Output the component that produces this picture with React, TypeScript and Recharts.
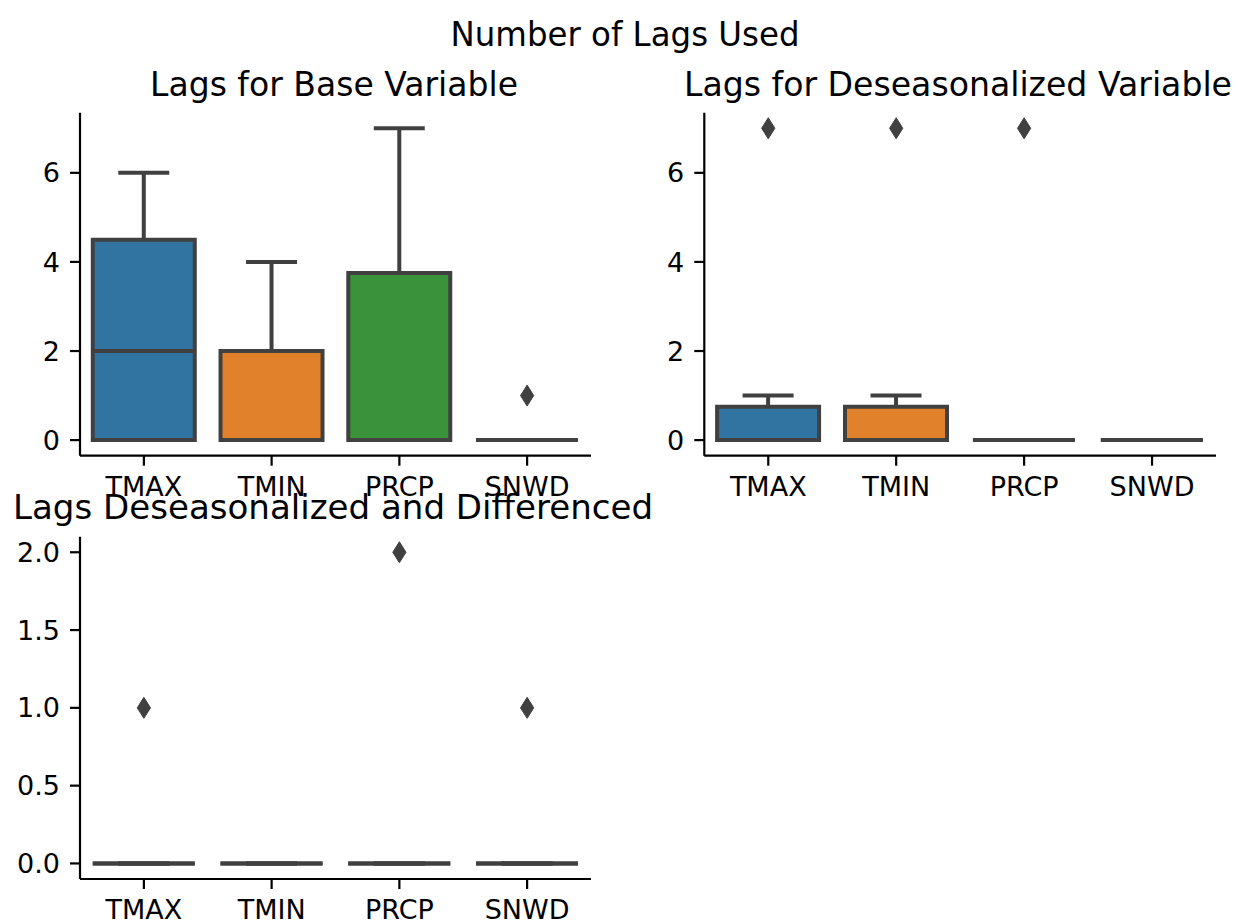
import { ComposedChart, Bar, Scatter, XAxis, YAxis } from "recharts";

const VARIABLES = ["TMAX", "TMIN", "PRCP", "SNWD"];
const PALETTE = ["#3274a1", "#e1812c", "#3a923a", "#c03d3e"];
const GRAY = "#404040";
const FONT = "DejaVu Sans";

// Lags for Base Variable
const BASE_LOW = [0, 0, 0, 0];
const BASE_Q1 = [0, 0, 0, 0];
const BASE_MEDIAN = [2, 0, 0, 0];
const BASE_Q3 = [4.5, 2, 3.75, 0];
const BASE_HIGH = [6, 4, 7, 0];
const BASE_OUTLIERS = [null, null, null, 1];

// Lags for Deseasonalized Variable
const DESEAS_LOW = [0, 0, 0, 0];
const DESEAS_Q1 = [0, 0, 0, 0];
const DESEAS_MEDIAN = [0, 0, 0, 0];
const DESEAS_Q3 = [0.75, 0.75, 0, 0];
const DESEAS_HIGH = [1, 1, 0, 0];
const DESEAS_OUTLIERS = [7, 7, 7, null];

// Lags Deseasonalized and Differenced
const DIFF_LOW = [0, 0, 0, 0];
const DIFF_Q1 = [0, 0, 0, 0];
const DIFF_MEDIAN = [0, 0, 0, 0];
const DIFF_Q3 = [0, 0, 0, 0];
const DIFF_HIGH = [0, 0, 0, 0];
const DIFF_OUTLIERS = [1, null, 2, 1];

const LAG_TICKS = [0, 2, 4, 6];
const DIFF_TICKS = [0, 0.5, 1, 1.5, 2];

function buildRows(
  low: number[],
  q1: number[],
  median: number[],
  q3: number[],
  high: number[],
  outliers: (number | null)[]
) {
  return VARIABLES.map((name, i) => ({
    name,
    range: [low[i], high[i]],
    low: low[i],
    q1: q1[i],
    median: median[i],
    q3: q3[i],
    high: high[i],
    outlier: outliers[i],
  }));
}

const baseRows = buildRows(BASE_LOW, BASE_Q1, BASE_MEDIAN, BASE_Q3, BASE_HIGH, BASE_OUTLIERS);
const deseasRows = buildRows(DESEAS_LOW, DESEAS_Q1, DESEAS_MEDIAN, DESEAS_Q3, DESEAS_HIGH, DESEAS_OUTLIERS);
const diffRows = buildRows(DIFF_LOW, DIFF_Q1, DIFF_MEDIAN, DIFF_Q3, DIFF_HIGH, DIFF_OUTLIERS);

// bar spans whisker low..high; everything else is placed inside that span
function BoxShape(props: any) {
  const { x, y, width, height, payload, index } = props;
  if (payload == null || x == null || y == null) return null;
  const top = Math.min(y, y + height);
  const bottom = Math.max(y, y + height);
  const span = payload.high - payload.low;
  const py = (v: number) =>
    span > 0 ? bottom - ((v - payload.low) / span) * (bottom - top) : top;
  const cx = x + width / 2;
  const capHalf = width / 4;
  const yLow = py(payload.low);
  const yQ1 = py(payload.q1);
  const yMed = py(payload.median);
  const yQ3 = py(payload.q3);
  const yHigh = py(payload.high);
  const line = { stroke: GRAY, strokeWidth: 4, fill: "none" };
  return (
    <g>
      <line x1={cx} x2={cx} y1={yQ3} y2={yHigh} {...line} />
      <line x1={cx} x2={cx} y1={yQ1} y2={yLow} {...line} />
      <line x1={cx - capHalf} x2={cx + capHalf} y1={yHigh} y2={yHigh} {...line} />
      <line x1={cx - capHalf} x2={cx + capHalf} y1={yLow} y2={yLow} {...line} />
      <path
        d={`M${x},${yQ3}H${x + width}V${yQ1}H${x}Z`}
        fill={PALETTE[index % PALETTE.length]}
        stroke={GRAY}
        strokeWidth={4}
      />
      <line x1={x} x2={x + width} y1={yMed} y2={yMed} {...line} />
    </g>
  );
}

function Diamond(props: any) {
  const { cx, cy, payload } = props;
  if (payload == null || payload.outlier == null || !isFinite(cx) || !isFinite(cy)) return null;
  const h = 10.5;
  const w = 6.6;
  return (
    <path
      d={`M${cx},${cy - h}L${cx + w},${cy}L${cx},${cy + h}L${cx - w},${cy}Z`}
      fill={GRAY}
      stroke={GRAY}
      strokeWidth={1}
    />
  );
}

interface PanelProps {
  rows: ReturnType<typeof buildRows>;
  left: number;
  top: number;
  width: number;
  height: number;
  margin: { top: number; right: number; bottom: number; left: number };
  domain: [number, number];
  ticks: number[];
  xAxisHeight: number;
  fmt?: (v: number) => string;
}

const axisStroke = { stroke: "#000", strokeWidth: 2.2 };
const tickStyle = { fill: "#000", fontSize: 27, fontFamily: FONT };

function BoxPanel({ rows, left, top, width, height, margin, domain, ticks, xAxisHeight, fmt }: PanelProps) {
  return (
    <div style={{ position: "absolute", left, top, width, height }}>
      <ComposedChart width={width} height={height} data={rows} margin={margin} barCategoryGap="10%">
        <XAxis
          dataKey="name"
          type="category"
          interval={0}
          height={xAxisHeight}
          tickSize={10}
          tickMargin={11}
          axisLine={axisStroke}
          tickLine={axisStroke}
          tick={tickStyle}
        />
        <YAxis
          type="number"
          domain={domain}
          ticks={ticks}
          allowDataOverflow
          width={60}
          tickSize={10}
          tickMargin={10}
          axisLine={axisStroke}
          tickLine={axisStroke}
          tick={tickStyle}
          tickFormatter={fmt}
        />
        <Bar dataKey="range" shape={BoxShape} isAnimationActive={false} />
        <Scatter dataKey="outlier" shape={Diamond} isAnimationActive={false} />
      </ComposedChart>
    </div>
  );
}

export default function App() {
  const titleStyle = { fontSize: 33, fontFamily: FONT, fill: "#000", lengthAdjust: "spacingAndGlyphs" as const };
  return (
    <div style={{ position: "absolute", left: 0, top: 0, width: 1238, height: 923, background: "#fff", overflow: "hidden" }}>
      <BoxPanel
        rows={baseRows}
        left={0}
        top={100}
        width={600}
        height={420}
        margin={{ top: 12.7, right: 9, bottom: 14.3, left: 20 }}
        domain={[-0.35, 7.35]}
        ticks={LAG_TICKS}
        xAxisHeight={50}
      />
      <BoxPanel
        rows={deseasRows}
        left={640}
        top={100}
        width={598}
        height={420}
        margin={{ top: 12.7, right: 22, bottom: 14.3, left: 4.3 }}
        domain={[-0.35, 7.35]}
        ticks={LAG_TICKS}
        xAxisHeight={50}
      />
      <BoxPanel
        rows={diffRows}
        left={0}
        top={520}
        width={600}
        height={403}
        margin={{ top: 16.7, right: 9, bottom: 0, left: 20 }}
        domain={[-0.1, 2.1]}
        ticks={DIFF_TICKS}
        xAxisHeight={44}
        fmt={(v: number) => v.toFixed(1)}
      />
      <svg width={1238} height={923} style={{ position: "absolute", left: 0, top: 0, pointerEvents: "none" }}>
        <text x={625} y={46} textAnchor="middle" textLength={349} {...titleStyle}>Number of Lags Used</text>
        <text x={334} y={96} textAnchor="middle" textLength={368} {...titleStyle}>Lags for Base Variable</text>
        <text x={958} y={96} textAnchor="middle" textLength={548} {...titleStyle}>Lags for Deseasonalized Variable</text>
        <text x={333} y={519} textAnchor="middle" textLength={640} {...titleStyle}>Lags Deseasonalized and Differenced</text>
      </svg>
    </div>
  );
}
